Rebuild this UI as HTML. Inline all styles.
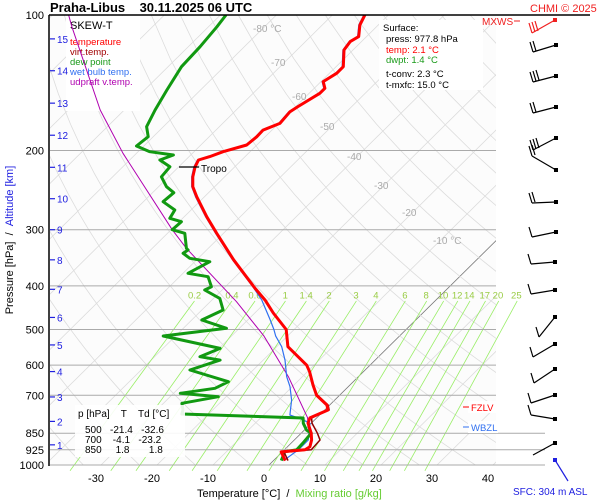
<!DOCTYPE html>
<html><head><meta charset="utf-8"><style>
body{margin:0;background:#fff;}
svg{display:block;font-family:"Liberation Sans",sans-serif;}
</style></head><body>
<svg id="chart" width="600" height="500" viewBox="0 0 600 500">
<defs><clipPath id="plotclip"><rect x="50" y="15" width="446" height="450"/></clipPath></defs>
<rect x="50" y="15" width="446" height="450" fill="#fcfcfc"/>
<g id="grid" clip-path="url(#plotclip)"></g>
<g id="mix"></g>
<g id="plines"></g>
<g>
<rect x="66" y="16" width="74" height="95" fill="#fff"/>
<text x="70" y="29" font-size="11">SKEW-T</text>
<text x="70" y="45" font-size="9.5" fill="#f00">temperature</text>
<text x="70" y="55" font-size="9.5" fill="#a00000">virt.temp.</text>
<text x="70" y="65" font-size="9.5" fill="#1a9a1a">dew point</text>
<text x="70" y="75" font-size="9.5" fill="#3070f0">wet bulb temp.</text>
<text x="70" y="85" font-size="9.5" fill="#b000b0">udpraft v.temp.</text>
</g>
<g id="series" clip-path="url(#plotclip)"></g>
<g id="axes"></g>
<line x1="49" y1="15" x2="49" y2="466" stroke="#000" stroke-width="1.5"/>
<line x1="49" y1="15" x2="590" y2="15" stroke="#000" stroke-width="1.5"/>
<text x="50" y="12" font-size="13" font-weight="bold">Praha-Libus&#160;&#160;&#160;&#160;30.11.2025 06 UTC</text>
<text x="530" y="12" font-size="11" fill="#f02020">CHMI © 2025</text>
<g>
<rect x="379" y="20" width="104" height="70" fill="#fff"/>
<text x="383" y="31" font-size="9.5">Surface:</text>
<text x="386" y="42" font-size="9.5">press: 977.8 hPa</text>
<text x="386" y="53" font-size="9.5" fill="#f00">temp: 2.1 °C</text>
<text x="386" y="63" font-size="9.5" fill="#1a9a1a">dwpt: 1.4 °C</text>
<text x="386" y="77" font-size="9.5">t-conv: 2.3 °C</text>
<text x="386" y="88" font-size="9.5">t-mxfc: 15.0 °C</text>
</g>
<g>
<rect x="75" y="405" width="110" height="52" fill="#fff" fill-opacity="0.9"/>
<text x="78" y="417" font-size="10">p [hPa]&#160;&#160;&#160;&#160;T&#160;&#160;&#160;&#160;Td [°C]</text>
<text x="85" y="433" font-size="10">500&#160;&#160;&#160;-21.4&#160;&#160;&#160;-32.6</text>
<text x="85" y="443" font-size="10">700&#160;&#160;&#160;&#160;-4.1&#160;&#160;&#160;-23.2</text>
<text x="85" y="453" font-size="10">850&#160;&#160;&#160;&#160;&#160;1.8&#160;&#160;&#160;&#160;&#160;&#160;&#160;1.8</text>
</g>
<g>
<line x1="179" y1="167" x2="199" y2="167" stroke="#000" stroke-width="1.2"/>
<text x="201" y="172" font-size="10">Tropo</text>
</g>
<g>
<rect x="468" y="401" width="30" height="12" fill="#fff"/>
<line x1="463" y1="407" x2="469" y2="407" stroke="#f00"/>
<text x="471" y="411" font-size="9.5" fill="#f00">FZLV</text>
<rect x="468" y="421" width="30" height="12" fill="#fff"/>
<line x1="463" y1="427" x2="469" y2="427" stroke="#3070f0"/>
<text x="471" y="431" font-size="9.5" fill="#3070f0">WBZL</text>
<text x="482" y="25" font-size="10" fill="#f02020">MXWS</text>
<line x1="514" y1="21" x2="520" y2="21" stroke="#f02020"/>
</g>
<g id="barbs"></g>
<text x="513" y="495" font-size="10" fill="#2020e0">SFC: 304 m ASL</text>
<text x="197" y="497" font-size="11">Temperature [°C]&#160;&#160;/&#160;&#160;<tspan fill="#66cc33">Mixing ratio [g/kg]</tspan></text>
<text transform="translate(13,240) rotate(-90)" text-anchor="middle" font-size="11">Pressure [hPa]&#160;&#160;/&#160;&#160;<tspan fill="#2020e0">Altitude [km]</tspan></text>
</svg>
<script>
const tempP=[977.8,935,925,910.7,880,850,807,786,754.6,735.6,700,664,620.5,600,546,500,459.5,430,405,350,305.6,280.7,253.4,240.7,228.8,217.4,210,206.4,201.3,194.5,186.4,180.2,174.1,164,159.8,149.3,145.5,140.6,134.7,130.3,119.6,114.6,111.7,105.2,100];
const tempT=[2.1,-0.2,3.7,4.0,3.1,1.8,-0.6,-1.2,0.6,-0.5,-4.1,-6.6,-9.6,-11.3,-18.0,-21.4,-26.7,-30.5,-34.4,-43.4,-51.2,-56.0,-61.4,-63.9,-65.7,-67.1,-67.7,-66.3,-64.8,-61.8,-61.5,-61.6,-59.8,-60.1,-59.6,-58.1,-58.1,-59.6,-58.7,-58.7,-61.6,-62.0,-61.4,-63.3,-64.2];
const dewP=[977.8,933.6,925.6,895,850,836.3,808,786.2,770.2,754.6,729.4,705,692.9,675.4,652.9,615,584.5,574.7,550.6,516.8,496.8,476.3,452.5,426.3,408.5,401.7,381.6,375,353.4,347.3,338.5,332.9,330,305.6,300,288,283,271.2,259.9,248.3,240.7,228.8,217.4,210,204.7,201.3,195.5,186.4,177.1,162.6,146.8,130.3,117.6,106.2,100];
const dewT=[1.4,0.4,2.2,2.1,1.8,0.4,-1.4,-2.4,-24.8,-25.3,-26.7,-21.4,-28.8,-23.5,-22.3,-31.3,-27.7,-31.9,-29.8,-42.2,-32.3,-38.2,-36.2,-38.9,-43.1,-42.5,-44.9,-49.1,-47.3,-51.5,-53.6,-53.3,-53.9,-56.9,-59.8,-59.6,-62.3,-62.9,-66.5,-66.2,-68.6,-71.3,-71.6,-74.6,-73.1,-77.9,-81.3,-80.9,-83.0,-84.5,-86.0,-87.6,-87.9,-88.5,-89.0];
const wbP=[977.8,925,880,808,791.4,774.4,717.3,669.9,636.4,584.5,546,517,500,476,430,405,350,305.6,280.7,253.4,240.7,228.8,217.4,210,206.4,201.3,194.5,186.4,180.2,174.1,164,159.8,149.3,145.5,140.6,134.7,130.3,119.6,114.6,111.7,105.2,100];
const wbT=[1.8,2.5,2.5,-0.2,-2.4,-5.3,-7.7,-10.4,-12.8,-16.1,-19.1,-22.1,-23.6,-26.0,-31.1,-34.6,-43.6,-51.4,-56.2,-61.6,-64.1,-65.9,-67.3,-67.9,-66.5,-65.0,-62.0,-61.7,-61.8,-60.0,-60.3,-59.8,-58.3,-58.3,-59.8,-58.9,-58.9,-61.8,-62.2,-61.6,-63.5,-64.4];
const vtP=[977.8,935,925,880,850,807,786,754.6,735.6,700];
const vtT=[2.6,0.3,4.8,4.6,2.9,0.1,-0.9,0.8,-0.3,-3.9];
const parcelP=[850,784.6,636.4,517,433.7,330,300,202.9,162.6,106.2,100];
const parcelT=[1.4,-1.7,-12.5,-24.2,-35.3,-53.9,-59.8,-82.4,-94.3,-114.4,-117.1];
const mixRatios=[0.2,0.4,0.6,1,1.4,2,3,4,6,8,10,12,14,17,20,25];
const isoLabels=[-80,-70,-60,-50,-40,-30,-20,-10];
const pLevels=[100,200,300,400,500,600,700,850,925,1000];
const tTicks=[-30,-20,-10,0,10,20,30,40];
const kmTicks=[1,2,3,4,5,6,7,8,9,10,11,12,13,14,15];
const kmPress=[902,800,706,620,541,470,407,350,300,256,218,185,157,133,113];

const NS="http://www.w3.org/2000/svg";
function yP(p){return 15+450*Math.log10(p/100);}
function xT(t,p){return 269+5.6*t+1.012*(465-yP(p));}
function mk(tag,attrs,parent){const e=document.createElementNS(NS,tag);for(const k in attrs)e.setAttribute(k,attrs[k]);parent.appendChild(e);return e;}
function pathD(P,T){return P.map((p,i)=>(i?'L':'M')+xT(T[i],p).toFixed(1)+' '+yP(p).toFixed(1)).join(' ');}

const grid=document.getElementById('grid');
for(let t=-160;t<=40;t+=10){
  const l=mk('line',{x1:xT(t,1000),y1:yP(1000),x2:xT(t,100),y2:yP(100),stroke:t===0?'#777':'#dcdcdc','stroke-width':0.8},grid);
  
  
}
for(let th=230;th<=500;th+=10){
  let d='';
  for(let p=1050;p>=100;p-=25){const t=th*Math.pow(p/1000,0.286)-273.15;d+=(d?'L':'M')+xT(t,p).toFixed(1)+' '+yP(p).toFixed(1);}
  const a=mk('path',{d:d,fill:'none',stroke:'#dcdcdc','stroke-width':0.8},grid);
  
  
}
const isoPos=[[253,32],[271,66],[292,100],[320,130],[347,160],[374,189],[402,216],[433,244]];
isoLabels.forEach((t,i)=>{
  const tx=mk('text',{x:isoPos[i][0],y:isoPos[i][1],'font-size':10,fill:'#aaa'},grid);
  tx.textContent=(t===-80||t===-10)?t+' °C':String(t);
  
  
});

const mix=document.getElementById('mix');
function tdFromW(w,p){const e=w*p/(622+w);const g=Math.log(e/6.112);return 243.5*g/(17.67-g);}
mixRatios.forEach(w=>{
  const p1=1030,p2=432;
  const l=mk('line',{x1:xT(tdFromW(w,p1),p1),y1:yP(p1),x2:xT(tdFromW(w,p2),p2),y2:yP(p2),stroke:'#99ee66','stroke-width':0.8},mix);
  
  
  const pl=420;
  const tx=mk('text',{x:xT(tdFromW(w,pl),pl)-4,y:yP(pl)+3,'font-size':9.5,fill:'#99cc44','text-anchor':'middle'},mix);
  tx.textContent=String(w);
  
  
});

const pl=document.getElementById('plines');
pLevels.forEach(p=>{
  const y=yP(p);
  const x2=(p===850||p===925||p===1000)?545:496;
  if(p!==100){
    const l=mk('line',{x1:50,y1:y,x2:x2,y2:y,stroke:'#aaa','stroke-width':1},pl);
    
    
  }
});

const ser=document.getElementById('series');
function series(P,T,col,w,name){
  const s=mk('path',{d:pathD(P,T),fill:'none',stroke:col,'stroke-width':w,'stroke-linejoin':'round'},ser);
  
  
}
series(parcelP,parcelT,'#b000b0',1,'updraft-virtual-temp-line');
series(wbP,wbT,'#3070f0',1.2,'wet-bulb-line');
series(dewP,dewT,'#119911',3,'dew-point-line');
series(vtP,vtT,'#900000',1.5,'virtual-temp-line');
series(tempP,tempT,'#ff0000',3,'temperature-line');

const ax=document.getElementById('axes');
pLevels.forEach(p=>{
  const tx=mk('text',{x:44,y:yP(p)+4,'font-size':11,'text-anchor':'end'},ax);
  tx.textContent=String(p);
  
  
});
tTicks.forEach(t=>{
  const tx=mk('text',{x:264+5.6*t,y:482,'font-size':11,'text-anchor':'middle'},ax);
  tx.textContent=String(t);
  
  
});
kmTicks.forEach((k,i)=>{
  const y=yP(kmPress[i]);
  const l=mk('line',{x1:50,y1:y,x2:55,y2:y,stroke:'#2020e0','stroke-width':1.2},ax);
  
  
  const tx=mk('text',{x:57,y:y+4,'font-size':10,fill:'#2020e0'},ax);
  tx.textContent=String(k);
  
  
});

const barbs=document.getElementById('barbs');
const barbDefs=[
 [555,20,532,33,3,'#f02020'],[556,45,533,52,2,'#000'],[556,76,533,82,3,'#000'],[556,107,533,113,2,'#000'],
 [556,138,533,150,3,'#000'],[556,170,532,156,2,'#000'],[556,202,532,203,2,'#000'],[556,232,532,237,1,'#000'],
 [555,262,531,264,1,'#000'],[555,290,531,294,1,'#000'],[555,317,539,337,1,'#000'],[555,344,533,357,1,'#000'],
 [555,369,534,383,1,'#000'],[555,395,531,403,1,'#000'],[555,419,531,415,1,'#000'],[555,443,533,455,0,'#000']];
barbDefs.forEach(b=>{
  const [x1,y1,x2,y2,n,c]=b;
  const g=mk('g',{},barbs);
  
  
  mk('line',{x1:x1,y1:y1,x2:x2,y2:y2,stroke:c,'stroke-width':1.2},g);
  mk('rect',{x:x1-2,y:y1-2,width:4,height:4,fill:c},g);
  for(let i=0;i<n;i++){const bx=x2+i*3,by=y2-i*1;mk('line',{x1:bx,y1:by,x2:bx-3,y2:by-10,stroke:c,'stroke-width':1.2},g);}
});
const sfc=mk('g',{},barbs);


mk('line',{x1:555,y1:460,x2:568,y2:481,stroke:'#2020e0','stroke-width':1.2},sfc);
mk('rect',{x:553,y:458,width:4,height:4,fill:'#2020e0'},sfc);
</script>
</body></html>
